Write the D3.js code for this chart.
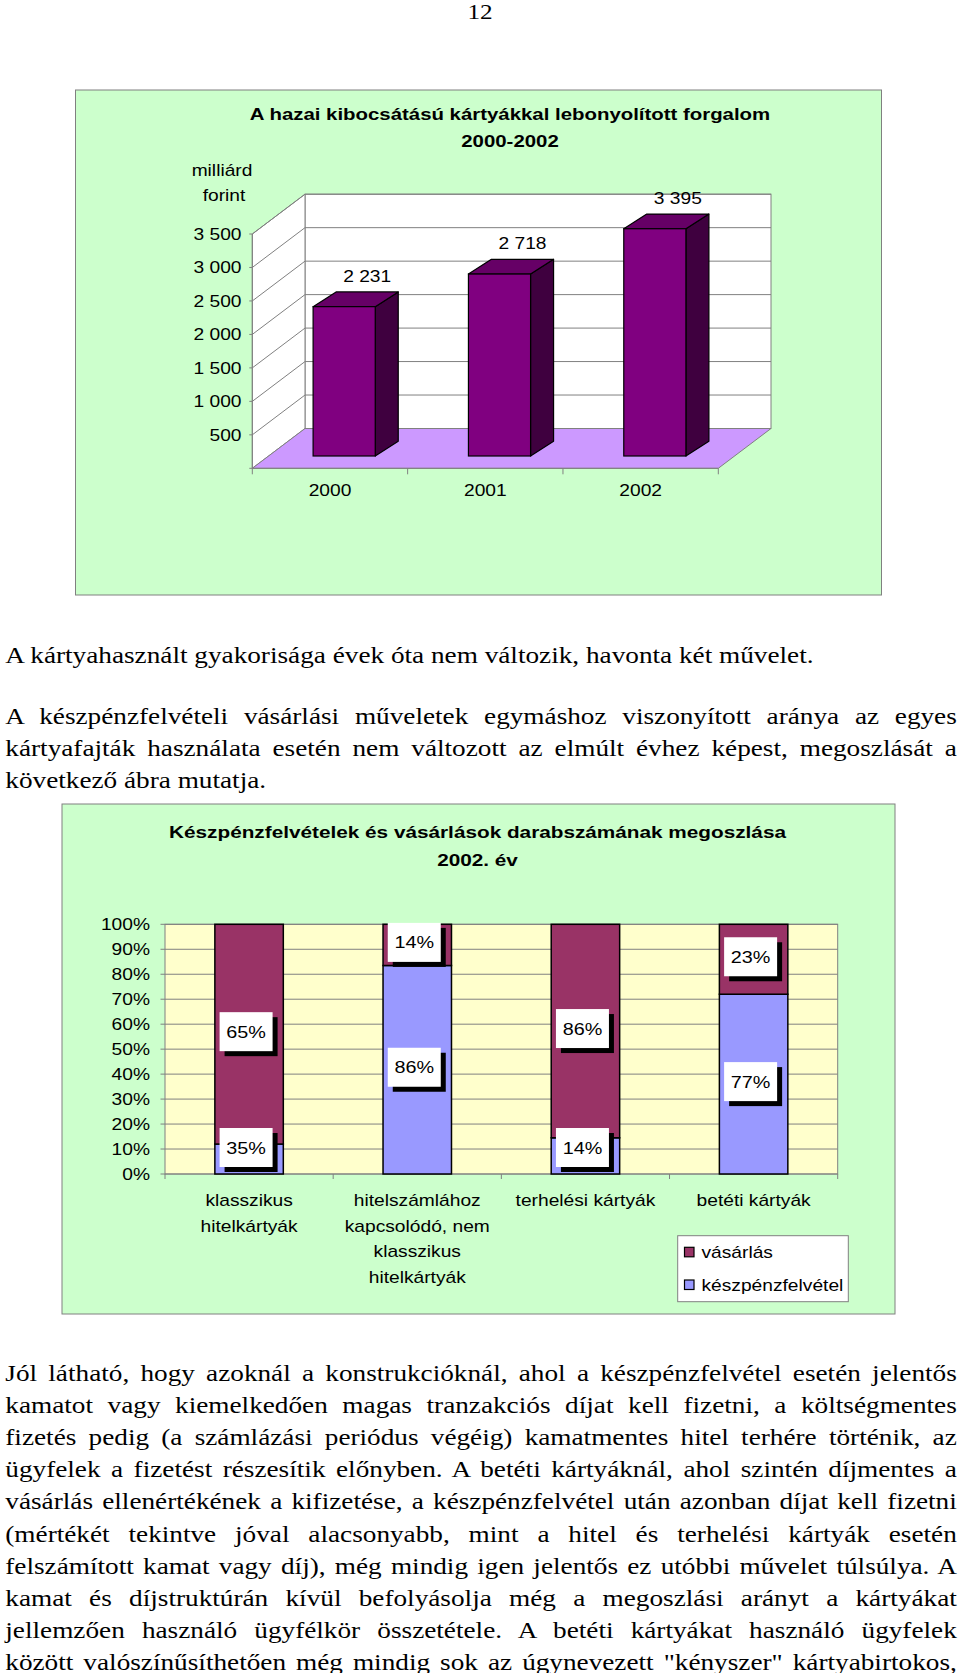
<!DOCTYPE html>
<html><head><meta charset="utf-8">
<script src="https://cdn.jsdelivr.net/npm/d3@7"></script>
<style>body{margin:0;background:#fff;} svg{display:block;}</style>
</head><body>
<svg id="page" width="960" height="1673"></svg>
<script>
// ---------------- DATA ----------------
const pageNumber = "12";
const turnoverTitle = ["A hazai kibocsátású kártyákkal lebonyolított forgalom", "2000-2002"];
const turnoverUnit = ["milliárd", "forint"];
const turnoverYears = ["2000", "2001", "2002"];
const turnoverValues = [2231, 2718, 3395];
const turnoverTicks = [500, 1000, 1500, 2000, 2500, 3000, 3500];

const shareTitle = ["Készpénzfelvételek és vásárlások darabszámának megoszlása", "2002. év"];
const cardTypes = ["klasszikus hitelkártyák", "hitelszámlához kapcsolódó, nem klasszikus hitelkártyák", "terhelési kártyák", "betéti kártyák"];
const cardTypeLines = [["klasszikus", "hitelkártyák"], ["hitelszámlához", "kapcsolódó, nem", "klasszikus", "hitelkártyák"], ["terhelési kártyák"], ["betéti kártyák"]];
const seriesNames = ["vásárlás", "készpénzfelvétel"];
const cashShare = [12, 83.5, 14.5, 72];        // segment heights as drawn
const purchaseShare = [88, 16.5, 85.5, 28];
const purchaseLabels = ["65%", "14%", "86%", "23%"];
const cashLabels = ["35%", "86%", "14%", "77%"];
const percentTicks = [0, 10, 20, 30, 40, 50, 60, 70, 80, 90, 100];

const para1 = ["A kártyahasznált gyakorisága évek óta nem változik, havonta két művelet."];
const para2 = ["A készpénzfelvételi vásárlási műveletek egymáshoz viszonyított aránya az egyes",
  "kártyafajták használata esetén nem változott az elmúlt évhez képest, megoszlását a",
  "következő ábra mutatja."];
const para3 = ["Jól látható, hogy azoknál a konstrukcióknál, ahol a készpénzfelvétel esetén jelentős",
  "kamatot vagy kiemelkedően magas tranzakciós díjat kell fizetni, a költségmentes",
  "fizetés pedig (a számlázási periódus végéig) kamatmentes hitel terhére történik, az",
  "ügyfelek a fizetést részesítik előnyben. A betéti kártyáknál, ahol szintén díjmentes a",
  "vásárlás ellenértékének a kifizetése, a készpénzfelvétel után azonban díjat kell fizetni",
  "(mértékét tekintve jóval alacsonyabb, mint a hitel és terhelési kártyák esetén",
  "felszámított kamat vagy díj), még mindig igen jelentős ez utóbbi művelet túlsúlya. A",
  "kamat és díjstruktúrán kívül befolyásolja még a megoszlási arányt a kártyákat",
  "jellemzően használó ügyfélkör összetétele. A betéti kártyákat használó ügyfelek",
  "között valószínűsíthetően még mindig sok az úgynevezett \"kényszer\" kártyabirtokos,"];

// ---------------- HELPERS ----------------
const SX = 1.2;                 // horizontal stretch of the scanned page
const SANS = "'Liberation Sans', Arial, sans-serif";
const SERIF = "'Liberation Serif', 'Times New Roman', serif";
const svg = d3.select("#page");
const GRAY = "#808080";
const FS = 16;                  // chart text size

function txt(g, x, y, s, o = {}) {
  return g.append("text")
    .attr("transform", `translate(${x},${y}) scale(${o.sx ?? SX},1)`)
    .attr("text-anchor", o.anchor || "middle")
    .attr("font-family", o.family || SANS)
    .attr("font-size", o.size || FS)
    .attr("font-weight", o.weight || "normal")
    .attr("fill", o.fill || "#000")
    .text(s);
}

function paragraph(lines, x0, x1, y0, lh, justifyLast, size) {
  const avail = (x1 - x0) / SX;
  lines.forEach((line, i) => {
    const t = txt(svg, x0, y0 + i * lh, line, {anchor: "start", family: SERIF, size: size});
    const justify = i < lines.length - 1 || justifyLast;
    if (justify) {
      const w = t.node().getComputedTextLength();
      const spaces = (line.match(/ /g) || []).length;
      if (spaces > 0) t.attr("word-spacing", (avail - w) / spaces);
    }
  });
}

const fmt = d3.formatLocale({decimal: ",", thousands: " ", grouping: [3], currency: ["", ""]}).format(",");

// ---------------- PAGE NUMBER ----------------
txt(svg, 480, 19, pageNumber, {family: SERIF, size: 21});

// ---------------- CHART 1 : 3D columns ----------------
{
  const g = svg.append("g");
  g.append("rect").attr("x", 75.5).attr("y", 90).attr("width", 806).attr("height", 505)
    .attr("fill", "#CCFFCC").attr("stroke", GRAY).attr("stroke-width", 1);

  txt(g, 510, 119.5, turnoverTitle[0], {weight: "bold", size: 17});
  txt(g, 510, 147, turnoverTitle[1], {weight: "bold", size: 17});
  txt(g, 222, 175.5, turnoverUnit[0]);
  txt(g, 224, 200.5, turnoverUnit[1]);

  const FX0 = 252.3, FX1 = 718.3, WDX = 52.7, WDY = -39.8;
  const x = d3.scaleBand().domain(turnoverYears).range([FX0, FX1]).padding(0);
  const y = d3.scaleLinear().domain([0, 3500]).range([468.3, 234]);
  const y0 = y(0), yT = y(3500);

  // back wall
  g.append("rect").attr("x", FX0 + WDX).attr("y", yT + WDY).attr("width", FX1 - FX0).attr("height", y0 - yT)
    .attr("fill", "#fff").attr("stroke", GRAY);
  // side wall
  g.append("path").attr("d", `M${FX0},${yT}L${FX0 + WDX},${yT + WDY}L${FX0 + WDX},${y0 + WDY}L${FX0},${y0}Z`)
    .attr("fill", "#fff").attr("stroke", GRAY);
  // gridlines
  turnoverTicks.forEach(v => {
    g.append("path").attr("d", `M${FX0},${y(v)}L${FX0 + WDX},${y(v) + WDY}L${FX1 + WDX},${y(v) + WDY}`)
      .attr("fill", "none").attr("stroke", GRAY).attr("stroke-width", 1);
  });
  // floor
  g.append("path").attr("d", `M${FX0},${y0}L${FX0 + WDX},${y0 + WDY}L${FX1 + WDX},${y0 + WDY}L${FX1},${y0}Z`)
    .attr("fill", "#CC99FF").attr("stroke", GRAY);
  // y axis
  g.append("line").attr("x1", FX0).attr("x2", FX0).attr("y1", yT).attr("y2", y0).attr("stroke", GRAY);
  [0].concat(turnoverTicks).forEach(v => {
    g.append("line").attr("x1", FX0 - 3).attr("x2", FX0).attr("y1", y(v)).attr("y2", y(v)).attr("stroke", GRAY);
  });
  turnoverTicks.forEach(v => txt(g, 241.5, y(v) + 5.7, fmt(v), {anchor: "end"}));
  // x axis ticks
  g.append("line").attr("x1", FX0).attr("x2", FX1).attr("y1", y0).attr("y2", y0).attr("stroke", GRAY);
  [FX0].concat(turnoverYears.map(d => x(d) + x.bandwidth())).forEach(xx => {
    g.append("line").attr("x1", xx).attr("x2", xx).attr("y1", y0).attr("y2", y0 + 6).attr("stroke", GRAY);
  });
  turnoverYears.forEach(d => txt(g, x(d) + x.bandwidth() / 2, 495.8, d));

  // bars
  const BF = [14.2, -12.3], BB = [37.2, -27];
  const bw = x.bandwidth() * 0.4;
  turnoverYears.forEach((d, i) => {
    const v = turnoverValues[i];
    const xl = x(d) + (x.bandwidth() - bw) / 2 + BF[0], xr = xl + bw;
    const yb = y0 + BF[1], yt = y(v) + BF[1];
    const ddx = BB[0] - BF[0], ddy = BB[1] - BF[1];
    g.append("path").attr("d", `M${xr},${yt}L${xr + ddx},${yt + ddy}L${xr + ddx},${yb + ddy}L${xr},${yb}Z`)
      .attr("fill", "#3F003F").attr("stroke", "#000").attr("stroke-width", 1.2).attr("stroke-linejoin", "round");
    g.append("path").attr("d", `M${xl},${yt}L${xl + ddx},${yt + ddy}L${xr + ddx},${yt + ddy}L${xr},${yt}Z`)
      .attr("fill", "#660066").attr("stroke", "#000").attr("stroke-width", 1.2).attr("stroke-linejoin", "round");
    g.append("rect").attr("x", xl).attr("y", yt).attr("width", bw).attr("height", yb - yt)
      .attr("fill", "#800080").attr("stroke", "#000").attr("stroke-width", 1.2);
    txt(g, (xl + xr) / 2 + ddx, yt + ddy - 16 + 5.7, fmt(v));
  });
}

// ---------------- CHART 2 : 100% stacked columns ----------------
{
  const g = svg.append("g");
  g.append("rect").attr("x", 62).attr("y", 804).attr("width", 833).attr("height", 510)
    .attr("fill", "#CCFFCC").attr("stroke", GRAY);
  txt(g, 477.5, 837.7, shareTitle[0], {weight: "bold", size: 17.3});
  txt(g, 477.5, 866, shareTitle[1], {weight: "bold", size: 17.3});

  const PX0 = 165, PX1 = 837.7, PY0 = 1174, PY1 = 924.3;
  const x = d3.scaleBand().domain(cardTypes).range([PX0, PX1]).padding(0);
  const y = d3.scaleLinear().domain([0, 100]).range([PY0, PY1]);

  g.append("rect").attr("x", PX0).attr("y", PY1).attr("width", PX1 - PX0).attr("height", PY0 - PY1)
    .attr("fill", "#FFFFCC").attr("stroke", GRAY);
  percentTicks.forEach(v => {
    g.append("line").attr("x1", PX0).attr("x2", PX1).attr("y1", y(v)).attr("y2", y(v)).attr("stroke", GRAY);
    g.append("line").attr("x1", PX0 - 4.5).attr("x2", PX0).attr("y1", y(v)).attr("y2", y(v)).attr("stroke", GRAY);
    txt(g, 150, y(v) + 5.7, v + "%", {anchor: "end"});
  });
  [PX0].concat(cardTypes.map(d => x(d) + x.bandwidth())).forEach(xx => {
    g.append("line").attr("x1", xx).attr("x2", xx).attr("y1", PY0).attr("y2", PY0 + 5).attr("stroke", GRAY);
  });

  const colors = ["#993366", "#9999FF"];
  const bw = x.bandwidth() * 0.407;
  const labelBoxes = [];
  cardTypes.forEach((d, i) => {
    const cx = x(d) + x.bandwidth() / 2;
    const xl = cx - bw / 2;
    g.append("rect").attr("x", xl).attr("y", y(cashShare[i])).attr("width", bw).attr("height", y(0) - y(cashShare[i]))
      .attr("fill", colors[1]).attr("stroke", "#000").attr("stroke-width", 1.5);
    const top = cashShare[i] + purchaseShare[i];
    g.append("rect").attr("x", xl).attr("y", y(top)).attr("width", bw).attr("height", y(cashShare[i]) - y(top))
      .attr("fill", colors[0]).attr("stroke", "#000").attr("stroke-width", 1.5);
    labelBoxes.push({cx, mid: y(cashShare[i] + purchaseShare[i] / 2), label: purchaseLabels[i]});
    labelBoxes.push({cx, mid: y(cashShare[i] / 2), label: cashLabels[i]});
  });
  const BH = 39, BWID = 53;
  labelBoxes.forEach(b => {
    let yc = b.mid - 2.5;
    if (yc + BH / 2 > PY0 - 7) yc = PY0 - 7 - BH / 2;
    const bx = b.cx - 3 - BWID / 2, by = yc - BH / 2;
    g.append("rect").attr("x", bx + 5).attr("y", by + 5).attr("width", BWID).attr("height", BH).attr("fill", "#000");
    g.append("rect").attr("x", bx).attr("y", by).attr("width", BWID).attr("height", BH).attr("fill", "#fff");
    txt(g, b.cx - 3, yc + 6, b.label, {size: 16.5});
  });

  cardTypeLines.forEach((lines, i) => {
    const cx = x(cardTypes[i]) + x.bandwidth() / 2;
    lines.forEach((l, k) => txt(g, cx, 1205.8 + k * 25.8, l));
  });

  // legend
  g.append("rect").attr("x", 677.7).attr("y", 1235.7).attr("width", 170.6).attr("height", 66)
    .attr("fill", "#fff").attr("stroke", GRAY);
  seriesNames.forEach((s, k) => {
    const yy = 1252.3 + k * 32.7;
    g.append("rect").attr("x", 684.5).attr("y", yy - 5).attr("width", 9.5).attr("height", 9.5)
      .attr("fill", colors[k]).attr("stroke", "#000").attr("stroke-width", 1.2);
    txt(g, 701.5, yy + 5.7, s, {anchor: "start"});
  });
}

// ---------------- BODY TEXT ----------------
const BODY = 22.7, LEFT = 5.3, RIGHT = 956.8;
paragraph(para1, LEFT, RIGHT, 663, 32, false, BODY);
paragraph(para2, LEFT, RIGHT, 724, 32, false, BODY);
paragraph(para3, LEFT, RIGHT, 1381, 32.1, true, BODY);
</script>
</body></html>
